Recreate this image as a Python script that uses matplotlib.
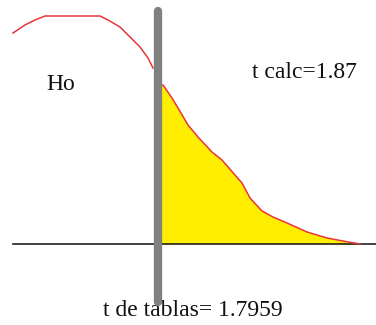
import matplotlib
matplotlib.use("Agg")
import matplotlib.pyplot as plt

# Density curve, left of the critical value (acceptance region)
x_left = [13, 25, 35, 45, 70, 100, 108, 120, 130, 140, 148, 153]
h_left = [211, 219, 224, 228, 228, 228, 224, 217, 207, 197, 186, 176]

# Density curve, right of the critical value (rejection region)
x_right = [161, 163, 172, 178, 188, 198, 212, 222, 235, 242, 250, 262, 273, 287, 307, 327, 343, 360]
h_right = [159, 159, 146, 136, 119, 107, 92, 84, 69, 61, 46, 33, 27, 21, 12, 6, 3, 0]

x_crit = 158
label_ho = "Ho"
label_calc = "t calc=1.87"
label_tab = "t de tablas= 1.7959"

plt.rcParams['font.family'] = ['Liberation Serif', 'DejaVu Serif']

fig = plt.figure(figsize=(3.76, 3.25), dpi=100)
ax = fig.add_axes([0, 0, 1, 1])
ax.set_xlim(0, 376)
ax.set_ylim(-81, 244)
ax.axis('off')

# baseline
ax.plot([13, 376], [0, 0], color='#222222', lw=1.2, zorder=2)

# shaded rejection region
ax.fill_between(x_right, 0, h_right, color='#ffee00', lw=0, zorder=1)

# curve
ax.plot(x_left, h_left, color='#e8343a', lw=1.1, zorder=3)
ax.plot(x_right, h_right, color='#e8343a', lw=1.1, zorder=3)

# critical value marker
ax.plot([x_crit, x_crit], [-58, 233], color='#808080', lw=6, solid_capstyle='round', zorder=4)

ax.text(61, 159, label_ho, fontsize=17, ha='center', va='center', color='#111111')
ax.text(304, 172, label_calc, fontsize=17, ha='center', va='center', color='#111111')
ax.text(193, -67, label_tab, fontsize=17, ha='center', va='center', color='#111111')

fig.savefig("out.png", dpi=100)
